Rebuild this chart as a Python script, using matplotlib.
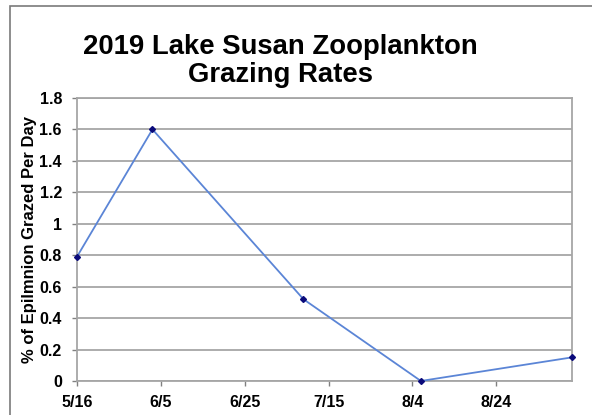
import matplotlib
matplotlib.use("Agg")
import matplotlib.pyplot as plt
import matplotlib.dates as mdates
from matplotlib.patches import Rectangle
from datetime import date, timedelta

plt.rcParams['font.family'] = ['Liberation Sans', 'DejaVu Sans']

# sample dates and grazing rates
sample_dates = [date(2019, 5, 16), date(2019, 6, 3), date(2019, 7, 9),
                date(2019, 8, 6), date(2019, 9, 11)]
grazing = [0.79, 1.60, 0.52, 0.0, 0.15]

tick_dates = [date(2019, 5, 16) + timedelta(days=20 * i) for i in range(6)]
tick_labels = ["5/16", "6/5", "6/25", "7/15", "8/4", "8/24"]
y_ticks = [0, 0.2, 0.4, 0.6, 0.8, 1, 1.2, 1.4, 1.6, 1.8]
y_labels = ["0", "0.2", "0.4", "0.6", "0.8", "1", "1.2", "1.4", "1.6", "1.8"]

fig = plt.figure(figsize=(5.92, 4.15), dpi=100)
ax = fig.add_axes([0.130, 0.082, 0.836, 0.682])

# outer chart border (screenshot crop shows top and left edges)
fig.add_artist(Rectangle((10 / 592, -0.1), 1.2, 1 - 6 / 415 + 0.1,
                         transform=fig.transFigure, fill=False,
                         edgecolor="#7a7a7a", linewidth=1.2))

ax.plot(sample_dates, grazing, color="#5b85d6", linewidth=1.3,
        marker="D", markersize=3, markerfacecolor="#0a0a7a",
        markeredgecolor="#0a0a7a", zorder=3, clip_on=False)

ax.set_xlim(date(2019, 5, 16), date(2019, 9, 11))
ax.set_ylim(0, 1.8)
ax.set_xticks(tick_dates)
ax.set_xticklabels(tick_labels, fontsize=11.5, fontweight="bold")
ax.set_yticks(y_ticks)
ax.set_yticklabels(y_labels, fontsize=11.5, fontweight="bold")

ax.yaxis.grid(True, color="#a6a6a6", linewidth=1.3)
ax.set_axisbelow(True)
for s in ax.spines.values():
    s.set_color("#a6a6a6")
    s.set_linewidth(1.3)
ax.tick_params(axis="both", length=3.6, width=1, color="#808080")
ax.tick_params(axis="y", pad=7.2)
ax.tick_params(axis="x", pad=6.4)

ax.set_ylabel("% of Epilmnion Grazed Per Day", fontsize=12, fontweight="bold",
              labelpad=2)

fig.text(0.473, 0.852, "2019 Lake Susan Zooplankton\nGrazing Rates",
         ha="center", va="center", fontsize=19.8, fontweight="bold",
         linespacing=1.1)

fig.savefig("out.png", dpi=100)
